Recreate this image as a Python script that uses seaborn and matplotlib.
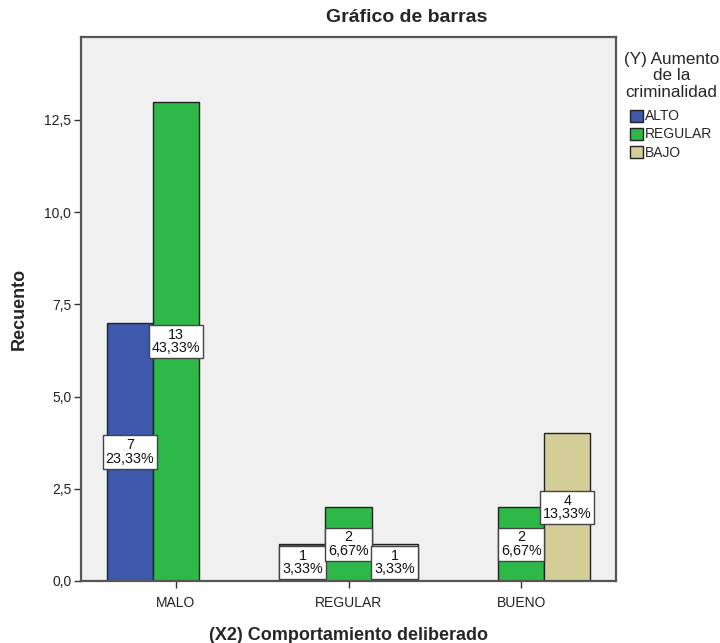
import matplotlib
matplotlib.use("Agg")
import matplotlib.pyplot as plt
import seaborn as sns
import pandas as pd
from matplotlib.patches import Patch

categories = ["MALO", "REGULAR", "BUENO"]
levels = ["ALTO", "REGULAR", "BAJO"]
# counts per (category, level); zero combos omitted
row_cat = ["MALO", "MALO", "REGULAR", "REGULAR", "REGULAR", "BUENO", "BUENO"]
row_lvl = ["ALTO", "REGULAR", "ALTO", "REGULAR", "BAJO", "REGULAR", "BAJO"]
row_cnt = [7, 13, 1, 2, 1, 2, 4]
total = 30
yticks = [0.0, 2.5, 5.0, 7.5, 10.0, 12.5]
colors = ["#3E58AC", "#2EB848", "#D3CE97"]

df = pd.DataFrame({"cat": row_cat, "lvl": row_lvl, "n": row_cnt})

sns.set_style("white")
plt.rcParams["font.family"] = ["Liberation Sans", "DejaVu Sans"]

fig = plt.figure(figsize=(7.2, 6.43), dpi=100)
ax = fig.add_axes([81 / 720, 1 - 581 / 643, (616 - 81) / 720, (581 - 37) / 643])
ax.set_facecolor("#F0F0F0")

sns.barplot(data=df, x="cat", y="n", hue="lvl", order=categories, hue_order=levels,
            palette=colors, width=0.8, dodge=True, edgecolor="#222222", linewidth=1.0,
            errorbar=None, legend=False, ax=ax, saturation=1)

for cont in ax.containers:
    for bar in cont:
        h = bar.get_height()
        if not h or h != h:
            continue
        cx = bar.get_x() + bar.get_width() / 2
        pct = f"{h / total * 100:.2f}".replace(".", ",")
        ax.text(cx, h / 2, f"{int(round(h))}\n{pct}%", ha="center", va="center",
                fontsize=10.3, linespacing=0.95, color="#111111", zorder=5,
                bbox=dict(boxstyle="square,pad=0.2", fc="white", ec="#444444", lw=1.0))

ax.set_xlim(-0.55, 2.55)
ax.set_ylim(0, 14.75)
ax.set_yticks(yticks)
ax.set_yticklabels([f"{v:.1f}".replace(".", ",") for v in yticks])
ax.tick_params(axis="both", which="both", direction="out", length=5, width=1,
               color="#333333", labelsize=10, labelcolor="#222222", left=True, bottom=True)
ax.tick_params(axis="x", pad=6)
ax.tick_params(axis="y", pad=2)
for s in ax.spines.values():
    s.set_color("#555555")
    s.set_linewidth(1.6)

ax.set_xlabel("(X2) Comportamiento deliberado", fontsize=13, fontweight="bold", labelpad=12)
ax.set_ylabel("Recuento", fontsize=13, fontweight="bold", labelpad=12)
fig.text(407 / 720, 1 - 18 / 643, "Gráfico de barras", ha="center", va="center",
         fontsize=14, fontweight="bold")

handles = [Patch(facecolor=c, edgecolor="#222222", lw=1.0) for c in colors]
leg = fig.legend(handles, levels, title="(Y) Aumento\nde la\ncriminalidad",
                 loc="upper left", bbox_to_anchor=(614 / 720, 1 - 42 / 643),
                 frameon=False, fontsize=10, title_fontsize=12.3,
                 handlelength=0.95, handleheight=0.95, handletextpad=0.15,
                 labelspacing=0.3, borderpad=0.2)
leg.get_title().set_multialignment("center")
leg.get_title().set_linespacing(1.12)
leg._legend_box.sep = 7

fig.savefig("out.png", dpi=100)
